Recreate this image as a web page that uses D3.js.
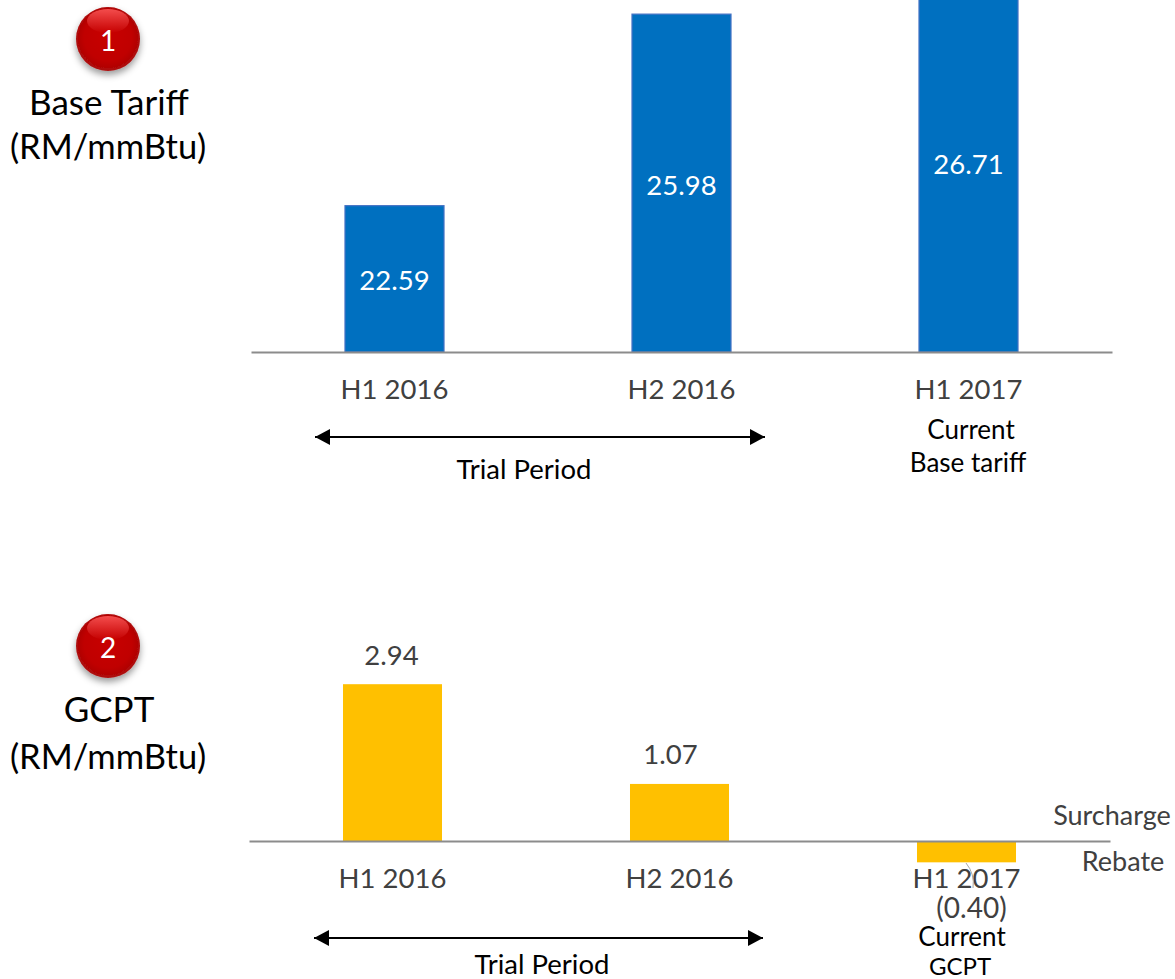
<!DOCTYPE html>
<html>
<head>
<meta charset="utf-8">
<script src="https://cdn.jsdelivr.net/npm/d3@7"></script>
<style>
    html, body { margin: 0; padding: 0; background: #fff; }
    svg { display: block; }
    text { font-family: Lato, "Open Sans", sans-serif; }
</style>
</head>
<body>
<svg id="chart"></svg>
<script>
    const periods = ["H1 2016", "H2 2016", "H1 2017"];
    const baseTariff = [22.59, 25.98, 26.71];
    const gcpt = [2.94, 1.07, -0.40];

    const width = 1175;
    const height = 979;
    const fmt = d3.format(".2f");
    const labelColor = "#404040";

    const svg = d3.select("#chart")
        .attr("width", width)
        .attr("height", height)
        .attr("viewBox", [0, 0, width, height]);

    const defs = svg.append("defs");

    // red ball of the numbered badges
    const ball = defs.append("radialGradient")
        .attr("id", "ball")
        .attr("cx", "50%").attr("cy", "50%").attr("r", "52%")
        .attr("fx", "50%").attr("fy", "38%");
    ball.append("stop").attr("offset", "0%").attr("stop-color", "#c80000");
    ball.append("stop").attr("offset", "72%").attr("stop-color", "#c00000");
    ball.append("stop").attr("offset", "100%").attr("stop-color", "#a80a0a");

    const shine = defs.append("linearGradient")
        .attr("id", "shine")
        .attr("x1", 0).attr("y1", 0).attr("x2", 0).attr("y2", 1);
    shine.append("stop").attr("offset", "0%").attr("stop-color", "#ff5a5a").attr("stop-opacity", 0.85);
    shine.append("stop").attr("offset", "100%").attr("stop-color", "#ff5a5a").attr("stop-opacity", 0);

    const shadow = defs.append("filter").attr("id", "shadow")
        .attr("x", "-30%").attr("y", "-30%").attr("width", "160%").attr("height", "170%");
    shadow.append("feDropShadow")
        .attr("dx", 0).attr("dy", 4).attr("stdDeviation", 3.5)
        .attr("flood-color", "#000").attr("flood-opacity", 0.4);

    defs.append("marker")
        .attr("id", "head")
        .attr("viewBox", "0 0 15 16")
        .attr("refX", 15).attr("refY", 8)
        .attr("markerWidth", 15).attr("markerHeight", 16)
        .attr("markerUnits", "userSpaceOnUse")
        .attr("orient", "auto-start-reverse")
        .append("path")
        .attr("d", "M0,0L15,8L0,16Z")
        .attr("fill", "#000");

    function put(x, y, str, size, color, anchor) {
        return svg.append("text")
            .attr("x", x)
            .attr("y", y)
            .attr("text-anchor", anchor || "middle")
            .attr("dominant-baseline", "central")
            .attr("font-size", size)
            .attr("fill", color || "#000")
            .text(str);
    }

    function badge(cy, num, line1, y1, line2, y2) {
        svg.append("circle")
            .attr("cx", 108).attr("cy", cy).attr("r", 32)
            .attr("fill", "url(#ball)")
            .attr("filter", "url(#shadow)");
        svg.append("ellipse")
            .attr("cx", 108).attr("cy", cy - 18).attr("rx", 21).attr("ry", 12)
            .attr("fill", "url(#shine)");
        put(108, cy + 1, num, 28, "#fff");
        put(109, y1, line1, 35);
        put(108, y2, line2, 34.5);
    }

    function arrow(x1, x2, y) {
        svg.append("line")
            .attr("x1", x1).attr("x2", x2)
            .attr("y1", y).attr("y2", y)
            .attr("stroke", "#000")
            .attr("stroke-width", 2.2)
            .attr("marker-start", "url(#head)")
            .attr("marker-end", "url(#head)");
    }

    // both panels share the same band layout, just shifted by 2px
    function panel(values, opts) {
        const x = d3.scaleBand()
            .domain(periods)
            .range(opts.xRange)
            .paddingInner(0.655)
            .paddingOuter(0.3275);
        const y = d3.scaleLinear()
            .domain(opts.yDomain)
            .range(opts.yRange);
        const base = y(opts.floor);

        svg.append("g")
            .selectAll("rect")
            .data(values)
            .join("rect")
            .attr("x", (d, i) => x(periods[i]))
            .attr("width", x.bandwidth())
            .attr("y", d => Math.min(y(d), base))
            .attr("height", d => Math.abs(y(d) - base))
            .attr("fill", opts.fill)
            .attr("stroke", opts.stroke || "none")
            .attr("stroke-width", 1.2);

        const axis = svg.append("g")
            .attr("transform", `translate(0,${base})`)
            .call(d3.axisBottom(x).tickSize(0).tickPadding(opts.tickPad));
        axis.select(".domain").attr("stroke", "#8c8c8c").attr("stroke-width", 2);
        axis.selectAll("text")
            .attr("font-size", 27.5)
            .attr("font-family", "Lato, 'Open Sans', sans-serif")
            .attr("fill", labelColor);
        return { x, y, base };
    }

    // Base tariff panel: axis starts at 20, the last bar runs off the top
    const tariffPanel = panel(baseTariff, {
        xRange: [251, 1112],
        yDomain: [20, 26],
        yRange: [352, 13],
        floor: 20,
        fill: "#0070c0",
        stroke: "#4472c4",
        tickPad: 27
    });
    baseTariff.forEach((d, i) => {
        put(tariffPanel.x(periods[i]) + tariffPanel.x.bandwidth() / 2, (tariffPanel.y(d) + tariffPanel.base) / 2 + 1, fmt(d), 27.5, "#fff");
    });

    // GCPT panel
    const gcptPanel = panel(gcpt, {
        xRange: [249, 1110],
        yDomain: [0, 3],
        yRange: [841, 681],
        floor: 0,
        fill: "#ffc000",
        tickPad: 27
    });
    const gcptOffset = [-1, -9, 5];
    gcpt.forEach((d, i) => {
        const cx = gcptPanel.x(periods[i]) + gcptPanel.x.bandwidth() / 2 + gcptOffset[i];
        if (d >= 0) {
            put(cx, gcptPanel.y(d) - 30, fmt(d), 27.5, labelColor);
        } else {
            put(cx, gcptPanel.y(d) + 45, "(" + fmt(-d) + ")", 28, labelColor);
        }
    });

    // thin leader from the rebate bar to its label
    svg.append("path")
        .attr("d", "M966,863Q975,874 973,888")
        .attr("fill", "none")
        .attr("stroke", "#a6a6a6")
        .attr("stroke-width", 1);

    badge(39, "1", "Base Tariff", 101, "(RM/mmBtu)", 145);
    badge(646, "2", "GCPT", 708, "(RM/mmBtu)", 755);

    arrow(315, 765, 437);
    arrow(314, 763, 938);

    put(524, 468, "Trial Period", 27.5);
    put(971, 429, "Current", 26);
    put(968, 462, "Base tariff", 26);
    put(542, 963, "Trial Period", 27.5);
    put(962, 936, "Current", 26);
    put(960, 965, "GCPT", 24);
    put(1112, 814, "Surcharge", 27, labelColor);
    put(1123, 860, "Rebate", 27, labelColor);
</script>
</body>
</html>
